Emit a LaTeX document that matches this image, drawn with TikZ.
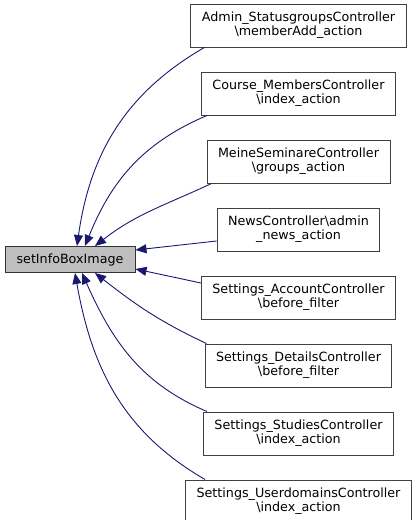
\documentclass[tikz,border=0pt]{standalone}
\usepackage{fontspec}
\setmainfont{DejaVu Sans}
\usepackage{xcolor}
\usepackage{tikz}
\usetikzlibrary{arrows.meta, positioning}
\definecolor{edgeblue}{RGB}{25, 25, 112}
\definecolor{boxgray}{RGB}{191, 191, 191}

\begin{document}
\begin{tikzpicture}[
    x=1pt, y=1pt,
    node distance=24pt,
    func/.style={rectangle, draw=black!75, line width=1pt, align=center, inner xsep=11pt, inner ysep=3pt, minimum height=43pt, font=\fontsize{12.7}{14}\selectfont},
    current/.style={rectangle, draw=black!80, line width=1pt, fill=boxgray, minimum width=130pt, minimum height=26pt, font=\fontsize{12.7}{14}\selectfont},
    edge/.style={line width=0.9pt, draw=edgeblue, <-, >={Triangle[length=11pt, width=9pt]}}
]
    \useasboundingbox (0,0) rectangle (419,-520);

    \node[current] (setinfo) at (70,-259.5) {setInfoBoxImage};
    \node[func] (statusgroups) at (298.5,-25.5) {Admin\_StatusgroupsController\\\textbackslash memberAdd\_action};
    \node[func, below=of statusgroups] (members) {Course\_MembersController\\\textbackslash index\_action};
    \node[func, below=of members] (seminare) {MeineSeminareController\\\textbackslash groups\_action};
    \node[func, below=of seminare] (news) {NewsController\textbackslash admin\\\_news\_action};
    \node[func, below=of news] (account) {Settings\_AccountController\\\textbackslash before\_filter};
    \node[func, below=of account] (details) {Settings\_DetailsController\\\textbackslash before\_filter};
    \node[func, below=of details] (studies) {Settings\_StudiesController\\\textbackslash index\_action};
    \node[func, below=of studies] (userdomains) {Settings\_UserdomainsController\\\textbackslash index\_action};

    \draw[edge] ([xshift=7pt]setinfo.north) to[out=82, in=210] ([xshift=14pt]statusgroups.south west);
    \draw[edge] ([xshift=15pt]setinfo.north) to[out=68, in=203] ([xshift=6pt]members.south west);
    \draw[edge] ([xshift=25pt]setinfo.north) to[out=38, in=205] ([xshift=5pt]seminare.south west);
    \draw[edge] ([yshift=9.5pt]setinfo.east) -- ([yshift=-11.5pt]news.west);
    \draw[edge] ([yshift=-9.5pt]setinfo.east) -- ([yshift=14.5pt]account.west);
    \draw[edge] ([xshift=25pt]setinfo.south) to[out=-38, in=155] ([xshift=2pt]details.north west);
    \draw[edge] ([xshift=12pt]setinfo.south) to[out=-66, in=157] ([xshift=4pt]studies.north west);
    \draw[edge] ([xshift=5pt]setinfo.south) to[out=-80, in=150] ([xshift=20pt]userdomains.north west);

\end{tikzpicture}
\end{document}
